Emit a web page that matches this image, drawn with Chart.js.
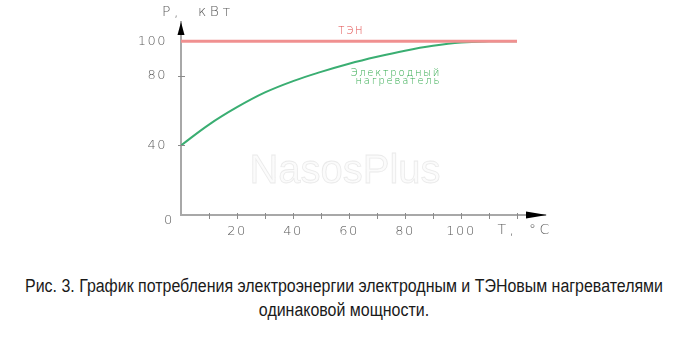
<!DOCTYPE html>
<html>
<head>
<meta charset="utf-8">
<script src="https://cdn.jsdelivr.net/npm/chart.js@4.4.1/dist/chart.umd.min.js"></script>
<style>
  body { margin: 0; background: #fff; }
  #wrap { position: relative; width: 687px; height: 337px; overflow: hidden; }
  .cap {
    position: absolute; left: 344px; white-space: nowrap;
    font: 18px/24px "Liberation Sans", Arial, sans-serif; color: #1a1a1a;
  }
  #cap1 { top: 274px; }
  #cap2 { top: 298px; }
</style>
</head>
<body>
<div id="wrap">
  <canvas id="myChart" width="687" height="260"></canvas>
  <div class="cap" id="cap1">Рис. 3. График потребления электроэнергии электродным и ТЭНовым нагревателями</div>
  <div class="cap" id="cap2">одинаковой мощности.</div>
</div>
<script>
const temps = [0, 10, 20, 30, 40, 50, 60, 70, 80, 90, 100, 110, 120];
const electrodePower = [40, 52, 62, 70.5, 77, 82.3, 87, 91, 94.5, 97.3, 99.2, 99.9, 100];
const tenTemps = [0, 120];
const tenPower = [100, 100];
const xTickLabels = [20, 40, 60, 80, 100];
const xTickMarks = [10, 20, 30, 40, 50, 60, 70, 80, 90, 100, 110, 120];
const yTickLabels = [40, 80, 100];
const yTickMarks = [40, 80];

const thinFont = "'DejaVu Sans ExtraLight', 'DejaVu Sans', sans-serif";

// caption is a narrow face in the original: squeeze to the same width
(function () {
  const probe = document.createElement("canvas").getContext("2d");
  probe.font = "18px 'Liberation Sans', Arial, sans-serif";
  const w = probe.measureText(document.getElementById("cap1").textContent).width;
  const k = 638 / w;
  ["cap1", "cap2"].forEach(id => {
    document.getElementById(id).style.transform = "translateX(-50%) scaleX(" + k + ")";
  });
})();

const extras = {
  id: "extras",
  beforeDraw(chart) {
    chart.ctx.letterSpacing = "1.5px";
  },
  afterDraw(chart) {
    const ctx = chart.ctx;
    const x = chart.scales.x, y = chart.scales.y;
    const x0 = x.getPixelForValue(0), y0 = y.getPixelForValue(0);
    ctx.save();
    // tick marks crossing the axes
    ctx.strokeStyle = "#8a8a8a";
    ctx.lineWidth = 1;
    ctx.beginPath();
    xTickMarks.forEach(v => {
      const px = Math.round(x.getPixelForValue(v)) + 0.5;
      ctx.moveTo(px, y0 - 2); ctx.lineTo(px, y0 + 4);
    });
    yTickMarks.forEach(v => {
      const py = Math.round(y.getPixelForValue(v)) + 0.5;
      ctx.moveTo(x0 - 3, py); ctx.lineTo(x0 + 4, py);
    });
    ctx.stroke();
    // arrows
    ctx.fillStyle = "#000";
    const top = chart.chartArea.top;
    ctx.beginPath();
    ctx.moveTo(x0, top); ctx.lineTo(x0 - 3.5, top + 13); ctx.lineTo(x0 + 3.5, top + 13);
    ctx.closePath(); ctx.fill();
    const right = chart.chartArea.right + 2;
    ctx.beginPath();
    ctx.moveTo(right, y0); ctx.lineTo(right - 21, y0 - 3.5); ctx.lineTo(right - 21, y0 + 3.5);
    ctx.closePath(); ctx.fill();

    // axis titles and the zero label
    ctx.font = "200 13px " + thinFont;
    ctx.fillStyle = "#5a5a5a";
    ctx.textBaseline = "middle";
    ctx.textAlign = "left";
    ctx.letterSpacing = "2px";
    ctx.fillText("0", x0 - 17, y0 + 6);
    ctx.font = "200 14px " + thinFont;
    ctx.letterSpacing = "3.5px";
    ctx.fillText("P,", x0 - 19, 12);
    ctx.fillText("кВт", x0 + 17, 12);
    ctx.fillText("T,", x.getPixelForValue(113), y0 + 15);
    ctx.fillText("°C", x.getPixelForValue(124.3), y0 + 15);

    // series labels
    ctx.font = "200 10px " + thinFont;
    ctx.letterSpacing = "1.8px";
    ctx.fillStyle = "#e04848";
    ctx.fillText("ТЭН", x.getPixelForValue(56.2), y.getPixelForValue(105.8));
    ctx.fillStyle = "#2ea84a";
    ctx.fillText("Электродный", x.getPixelForValue(60.5), y.getPixelForValue(81.4));
    ctx.fillText("нагреватель", x.getPixelForValue(62.3), y.getPixelForValue(76.6));

    // watermark
    ctx.letterSpacing = "0px";
    ctx.font = "40px 'Liberation Sans', Arial, sans-serif";
    ctx.textAlign = "center";
    ctx.textBaseline = "alphabetic";
    ctx.fillStyle = "rgba(250,250,250,0.8)";
    ctx.strokeStyle = "rgba(215,215,215,0.5)";
    ctx.lineWidth = 0.8;
    ctx.fillText("NasosPlus", 345, 183);
    ctx.strokeText("NasosPlus", 345, 183);
    ctx.restore();
    ctx.letterSpacing = "0px";
  }
};

const ctx = document.getElementById("myChart").getContext("2d");
const chart = new Chart(ctx, {
  type: "line",
  data: {
    datasets: [
      {
        label: "ТЭН",
        data: tenTemps.map((t, i) => ({ x: t, y: tenPower[i] })),
        borderColor: "#f09090",
        borderWidth: 3,
        pointRadius: 0
      },
      {
        label: "Электродный нагреватель",
        data: temps.map((t, i) => ({ x: t, y: electrodePower[i] })),
        borderColor: "#3aae72",
        borderWidth: 2,
        pointRadius: 0,
        tension: 0.4
      }
    ]
  },
  options: {
    responsive: false,
    animation: false,
    layout: { padding: { left: 0, right: 142, top: 22, bottom: 0 } },
    plugins: { legend: { display: false }, tooltip: { enabled: false } },
    scales: {
      x: {
        type: "linear",
        min: 0,
        max: 130,
        afterFit: s => { s.height = 45; },
        afterBuildTicks: s => { s.ticks = xTickLabels.map(v => ({ value: v })); },
        grid: { display: false, drawTicks: false },
        border: { display: true, color: "#a8a8a8", width: 2 },
        ticks: {
          autoSkip: false,
          maxRotation: 0,
          padding: 9,
          color: "#5a5a5a",
          font: { family: thinFont, size: 13, weight: "200" }
        }
      },
      y: {
        min: 0,
        max: 111,
        afterFit: s => { s.width = 181; },
        afterBuildTicks: s => { s.ticks = yTickLabels.map(v => ({ value: v })); },
        grid: { display: false, drawTicks: false },
        border: { display: true, color: "#a8a8a8", width: 2 },
        ticks: {
          autoSkip: false,
          padding: 14,
          color: "#5a5a5a",
          font: { family: thinFont, size: 13, weight: "200" }
        }
      }
    }
  },
  plugins: [extras]
});
</script>
</body>
</html>
